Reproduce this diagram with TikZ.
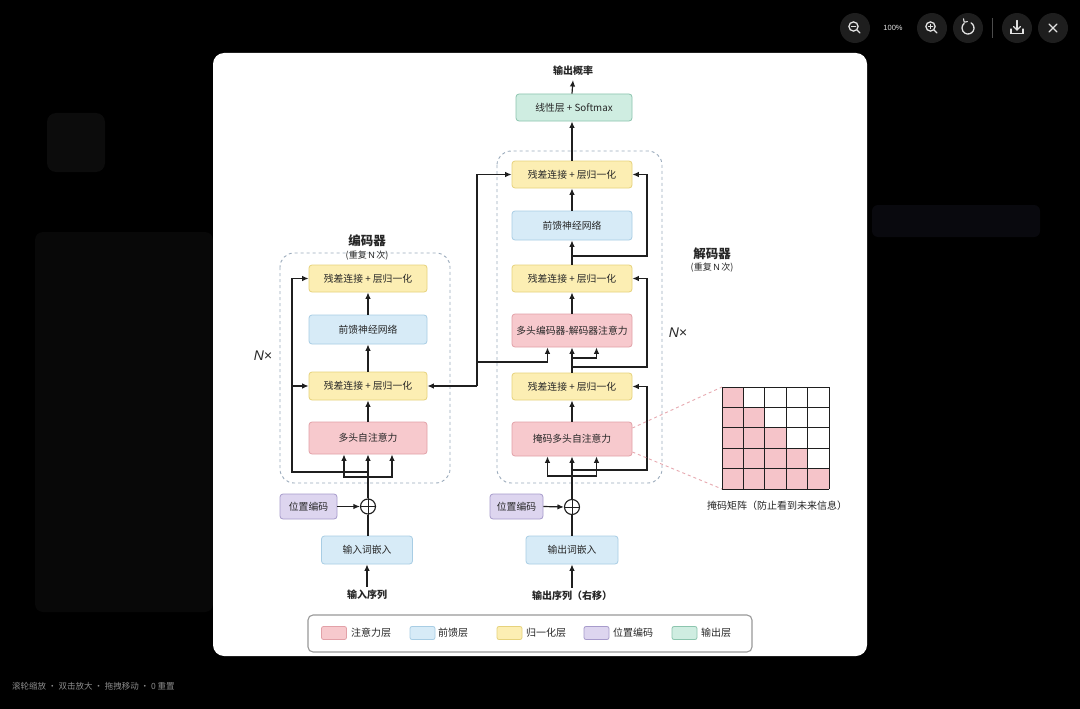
\documentclass[tikz,border=0pt]{standalone}
\usepackage{fontspec}
\setmainfont{Noto Sans CJK SC}
\newfontfamily\latinf{Liberation Sans}
\usetikzlibrary{arrows.meta}
\definecolor{linec}{HTML}{1F1F1F}
\definecolor{txt}{HTML}{262626}
\definecolor{attF}{HTML}{F7C9CD}
\definecolor{attD}{HTML}{E2A1A8}
\definecolor{ffF}{HTML}{D7EBF7}
\definecolor{ffD}{HTML}{A8CDE4}
\definecolor{nrF}{HTML}{FCEEB3}
\definecolor{nrD}{HTML}{E6D27C}
\definecolor{peF}{HTML}{DDD5EF}
\definecolor{peD}{HTML}{A79BCB}
\definecolor{ouF}{HTML}{CFEDE1}
\definecolor{ouD}{HTML}{8CC5AE}
\definecolor{dashc}{HTML}{9AAABB}
\definecolor{maskF}{HTML}{F5C4C9}
\definecolor{maskL}{HTML}{E7A9B0}
\definecolor{btn}{HTML}{1E1E1E}
\definecolor{icon}{HTML}{E2E2E2}
\definecolor{pan1}{HTML}{080808}
\definecolor{pan2}{HTML}{0C0C0C}
\definecolor{pan3}{HTML}{09090E}
\tikzset{
  arr/.style={draw=linec, line width=1.2pt, -{Latex[length=6.5pt,width=5.5pt]}},
  ln/.style={draw=linec, line width=1.2pt},
  blk/.style={rounded corners=3pt, line width=0.8pt, text=txt, inner sep=0pt,
    font=\fontsize{9.8}{11}\selectfont},
  attn/.style={blk, fill=attF, draw=attD},
  ffn/.style={blk, fill=ffF, draw=ffD},
  nrm/.style={blk, fill=nrF, draw=nrD, minimum height=27pt},
  pe/.style={blk, fill=peF, draw=peD, minimum height=25pt},
  outl/.style={blk, fill=ouF, draw=ouD},
  addc/.style={circle, draw=linec, line width=1.1pt, minimum size=15pt, inner sep=0pt},
  ttl/.style={font=\fontsize{12.5}{14}\selectfont\bfseries, text=black!85},
  sub/.style={font=\fontsize{9}{10}\selectfont, text=txt},
  io/.style={font=\fontsize{10}{12}\selectfont\bfseries, text=black!85},
  rep/.style={draw=dashc, dashed, line width=0.9pt, rounded corners=14pt},
  swatch/.style={rounded corners=2pt, line width=0.8pt, minimum width=25pt, minimum height=13pt, inner sep=0pt},
  leg/.style={font=\fontsize{10}{12}\selectfont, text=txt, anchor=west, inner sep=0pt},
  btnc/.style={circle, fill=btn, minimum size=30pt, inner sep=0pt},
  ic/.style={draw=icon, line width=1.3pt, line cap=round},
}
\begin{document}
\begin{tikzpicture}[x=1pt,y=-1pt]
\useasboundingbox (0,0) rectangle (1080,709);
% ---------- viewer background ----------
\fill[black] (0,0) rectangle (1080,709);
\fill[pan1, rounded corners=8pt] (35,232) rectangle (213,612);
\fill[pan2, rounded corners=9pt] (47,113) rectangle (105,172);
\fill[pan3, rounded corners=6pt] (872,205) rectangle (1040,237);
\node[anchor=west, text=black!45!white, font=\fontsize{8.5}{10}\selectfont, inner sep=0pt] (hint) at (12,686) {滚轮缩放 · 双击放大 · 拖拽移动 · 0 重置};
% toolbar
\node[btnc] (bzo) at (855,28) {};
\draw[ic] (853.5,26.5) circle (4.6pt);
\draw[ic] (857,30) -- (860,33);
\draw[ic, line width=1.1pt] (851.3,26.5) -- (855.7,26.5);
\node[text=icon, font=\fontsize{7.5}{9}\selectfont\latinf] (pct) at (893,28) {100\%};
\node[btnc] (bzi) at (932,28) {};
\draw[ic] (930.5,26.5) circle (4.6pt);
\draw[ic] (934,30) -- (937,33);
\draw[ic, line width=1.1pt] (928.3,26.5) -- (932.7,26.5) (930.5,24.3) -- (930.5,28.7);
\node[btnc] (brt) at (968,28) {};
\draw[ic] (968,28) ++(-60:6) arc (-60:230:6);
\draw[ic, line width=1.1pt] (964.2,22.2) -- (963.5,18.8) (964.2,22.2) -- (967.4,21.6);
\draw[draw=black!70!white, line width=0.8pt] (992,18) -- (992,38);
\node[btnc] (bdl) at (1017,28) {};
\draw[ic] (1017,20.5) -- (1017,29.5);
\draw[ic] (1013.5,26.5) -- (1017,30) -- (1020.5,26.5);
\draw[ic] (1011,29) -- (1011,33.5) -- (1023,33.5) -- (1023,29);
\node[btnc] (bcl) at (1053,28) {};
\draw[ic] (1049,24) -- (1057,32) (1057,24) -- (1049,32);
% ---------- card ----------
\fill[white, rounded corners=11pt] (213,53) rectangle (867,656);
% repeat boxes
\draw[rep] (280,253) rectangle (450,483);
\draw[rep] (497,151) rectangle (662,483);
% ---------- encoder ----------
\node[ttl] (eT) at (367,241) {编码器};
\node[sub] (eTs) at (367,256) {(重复\,{\latinf N}\,次)};
\node[font=\fontsize{14}{16}\selectfont\latinf\itshape, text=black!85] (eNx) at (263,356) {N×};
\node[nrm, minimum width=118pt] (eN2) at (368,278.5) {残差连接 + 层归一化};
\node[ffn, minimum width=118pt, minimum height=29pt] (eF) at (368,329.5) {前馈神经网络};
\node[nrm, minimum width=118pt, minimum height=28pt] (eN1) at (368,386) {残差连接 + 层归一化};
\node[attn, minimum width=118pt, minimum height=32pt] (eA) at (368,438) {多头自注意力};
\node[addc] (eAdd) at (368,506.5) {};
\draw[ln, line width=1pt] (eAdd.north) -- (eAdd.south) (eAdd.west) -- (eAdd.east);
\node[pe, minimum width=57pt] (ePE) at (308.5,506.5) {位置编码};
\node[ffn, minimum width=91pt, minimum height=28pt] (eEmb) at (367,550) {输入词嵌入};
\node[io] (eIn) at (367,595) {输入序列};
\draw[arr] (eIn.north) -- (eIn.north |- eEmb.south);
\draw[ln] (eEmb.north -| eAdd) -- (eAdd.south);
\draw[arr] (ePE.east) -- (eAdd.west);
\draw[arr] (eAdd.north) -- (eA.south);
\coordinate (eS) at (368,477);
\draw[arr] (eS) -| ([xshift=-24pt]eA.south);
\draw[arr] (eS) -| ([xshift=24pt]eA.south);
\coordinate (eR) at (368,472);
\coordinate (eRL) at (292,472);
\draw[arr] (eR) -- (eRL) |- (eN2.west);
\draw[arr] (eRL |- eN1.west) -- (eN1.west);
\draw[arr] (eA.north) -- (eN1.south);
\draw[arr] (eN1.north) -- (eF.south);
\draw[arr] (eF.north) -- (eN2.south);
% ---------- decoder ----------
\node[ttl] (dT) at (712,254) {解码器};
\node[sub] (dTs) at (712,268) {(重复\,{\latinf N}\,次)};
\node[font=\fontsize{14}{16}\selectfont\latinf\itshape, text=black!85] (dNx) at (678,333) {N×};
\node[io] (dOut) at (573,71) {输出概率};
\node[outl, minimum width=116pt, minimum height=27pt] (dLin) at (574,107.5) {线性层 + Softmax};
\node[nrm, minimum width=120pt] (dN3) at (572,174.5) {残差连接 + 层归一化};
\node[ffn, minimum width=120pt, minimum height=29pt] (dF) at (572,225.5) {前馈神经网络};
\node[nrm, minimum width=120pt] (dN2) at (572,278.5) {残差连接 + 层归一化};
\node[attn, minimum width=120pt, minimum height=33pt] (dC) at (572,330.5) {多头编码器-解码器注意力};
\node[nrm, minimum width=120pt] (dN1) at (572,386.5) {残差连接 + 层归一化};
\node[attn, minimum width=120pt, minimum height=34pt] (dM) at (572,439) {掩码多头自注意力};
\node[addc] (dAdd) at (572,507) {};
\draw[ln, line width=1pt] (dAdd.north) -- (dAdd.south) (dAdd.west) -- (dAdd.east);
\node[pe, minimum width=53pt] (dPE) at (516.5,506.5) {位置编码};
\node[ffn, minimum width=92pt, minimum height=28pt] (dEmb) at (572,550) {输出词嵌入};
\node[io] (dIn) at (572,596) {输出序列（右移）};
\draw[arr] (dIn.north) -- (dIn.north |- dEmb.south);
\draw[ln] (dEmb.north) -- (dAdd.south);
\draw[arr] (dPE.east) -- (dAdd.west);
\draw[arr] (dAdd.north) -- (dM.south);
\coordinate (dS1) at (572,476);
\draw[arr] (dS1) -| ([xshift=-24.5pt]dM.south);
\draw[arr] (dS1) -| ([xshift=24.5pt]dM.south);
\coordinate (dR1) at (572,470);
\coordinate (dR1r) at (647,470);
\draw[arr] (dR1) -- (dR1r) |- (dN1.east);
\draw[arr] (dM.north) -- (dN1.south);
\draw[arr] (dN1.north) -- (dC.south);
\coordinate (dS2) at (572,358);
\draw[arr] (dS2) -| ([xshift=24.5pt]dC.south);
\coordinate (dR2) at (572,367);
\coordinate (dR2r) at (647,367);
\draw[arr] (dR2) -- (dR2r) |- (dN2.east);
\draw[arr] (dC.north) -- (dN2.south);
\draw[arr] (dN2.north) -- (dF.south);
\coordinate (dR3) at (572,256);
\coordinate (dR3r) at (647,256);
\draw[arr] (dR3) -- (dR3r) |- (dN3.east);
\draw[arr] (dF.north) -- (dN3.south);
\draw[arr] (dN3.north) -- (dN3.north |- dLin.south);
\coordinate (oTip) at (573,80);
\draw[arr] (dN3.north |- dLin.north) -- (oTip);
% encoder -> decoder
\coordinate (xb) at (477,386);
\coordinate (xt) at (477,174.5);
\coordinate (xm) at (477,362);
\draw[arr] (xb) -- (eN1.east);
\draw[arr] (xb) -- (xt) -- (dN3.west);
\draw[arr] (xm) -| ([xshift=-24.5pt]dC.south);
% ---------- mask matrix ----------
\foreach \i in {0,...,4}{
  \foreach \j in {0,...,\i}{
    \fill[maskF] ({722+\j*21.4},{387+\i*20.4}) rectangle ++(21.4,20.4);
  }
}
\foreach \k in {0,...,5}{
  \draw[linec, line width=1pt] ({722+\k*21.4},387) -- ({722+\k*21.4},489);
  \draw[linec, line width=1pt] (722,{387+\k*20.4}) -- (829,{387+\k*20.4});
}
\coordinate (mTL) at (722,387);
\coordinate (mBL) at (722,489);
\draw[maskL, dashed, line width=0.9pt] ([yshift=11pt]dM.east) -- (mTL);
\draw[maskL, dashed, line width=0.9pt] ([yshift=-13pt]dM.east) -- (mBL);
\node[font=\fontsize{10}{12}\selectfont, text=black!85] (mCap) at (777,506) {掩码矩阵（防止看到未来信息）};
% ---------- legend ----------
\draw[draw=black!40, line width=1.1pt, rounded corners=5pt] (308,615) rectangle (752,652);
\node[swatch, fill=attF, draw=attD] (l1) at (334,633) {};
\node[leg] (l1t) at (351,633) {注意力层};
\node[swatch, fill=ffF, draw=ffD] (l2) at (422.5,633) {};
\node[leg] (l2t) at (438,633) {前馈层};
\node[swatch, fill=nrF, draw=nrD] (l3) at (509.5,633) {};
\node[leg] (l3t) at (526,633) {归一化层};
\node[swatch, fill=peF, draw=peD] (l4) at (596.5,633) {};
\node[leg] (l4t) at (613,633) {位置编码};
\node[swatch, fill=ouF, draw=ouD] (l5) at (684.5,633) {};
\node[leg] (l5t) at (701,633) {输出层};
\end{tikzpicture}
\end{document}
